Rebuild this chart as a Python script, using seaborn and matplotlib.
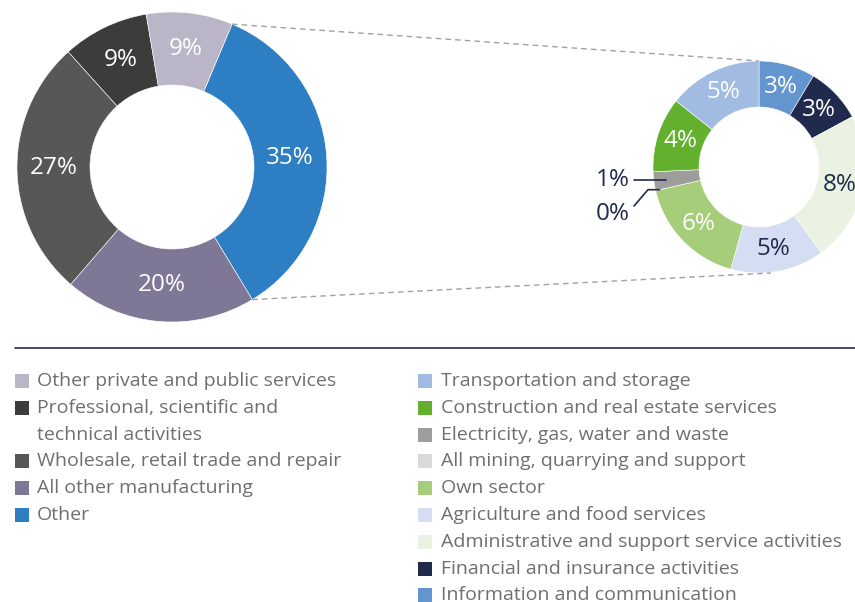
import matplotlib
matplotlib.use("Agg")
import matplotlib.pyplot as plt
import seaborn as sns
import numpy as np
from matplotlib.patches import Rectangle

sns.set_theme(style="white")
plt.rcParams['font.family'] = ['Open Sans', 'DejaVu Sans']

# ---- data ----
left_labels = ["Other", "All other manufacturing", "Wholesale, retail trade and repair",
               "Professional, scientific and\ntechnical activities", "Other private and public services"]
left_values = [35, 20, 27, 9, 9]
left_colors = ["#2e7ec4", "#7e7896", "#575756", "#3c3c3b", "#bab5c7"]

right_labels = ["Information and communication", "Financial and insurance activities",
                "Administrative and support service activities", "Agriculture and food services",
                "Own sector", "All mining, quarrying and support", "Electricity, gas, water and waste",
                "Construction and real estate services", "Transportation and storage"]
right_values = [3, 3, 8, 5, 6, 0, 1, 4, 5]
right_colors = ["#6396cf", "#1f2a4d", "#eaf3e1", "#d5ddf2", "#a5cd7a", "#d9d9d9",
                "#9d9d9c", "#62b02e", "#a2bbe2"]
right_label_colors = ["white", "white", "#1f2a4d", "#1f2a4d", "white", None, None, "white", "white"]

NAVY = "#1f2a4d"
TEXT_GRAY = "#6f6f6e"
PIE_FS = 17.5
LEG_FS = 14

W, H = 855, 602
fig = plt.figure(figsize=(W / 100, H / 100), dpi=100)
ax = fig.add_axes([0, 0, 1, 1])

def py(y):
    return H - y

L_C = (172, py(167)); L_R = 155; L_W = 73
R_C = (759, py(167)); R_R = 106; R_W = 46
L_START = 67.2

wl, tl, al = ax.pie(left_values, colors=left_colors, center=L_C, radius=L_R,
                    startangle=L_START, counterclock=False,
                    wedgeprops=dict(width=L_W, edgecolor="white", linewidth=0.4),
                    autopct=lambda p: f"{p:.0f}%", pctdistance=(L_R - L_W / 2) / L_R,
                    textprops=dict(color="white", fontsize=PIE_FS))

rtot = sum(right_values)
wr, tr, ar = ax.pie(right_values, colors=right_colors, center=R_C, radius=R_R,
                    startangle=90, counterclock=False,
                    wedgeprops=dict(width=R_W, edgecolor="white", linewidth=0.4),
                    autopct=lambda p: f"{p * rtot / 100:.0f}%" if p * rtot / 100 >= 1.5 else "",
                    pctdistance=(R_R - R_W / 2) / R_R,
                    textprops=dict(color="white", fontsize=PIE_FS))
for t, c in zip(ar, right_label_colors):
    if c:
        t.set_color(c)

# leader lines for tiny slices (electricity = 1%, mining = 0%)
def pt(center, r, theta_deg):
    th = np.deg2rad(theta_deg)
    return center[0] + r * np.cos(th), center[1] + r * np.sin(th)

w_elec = wr[6]; w_min = wr[5]
th_e = (w_elec.theta1 + w_elec.theta2) / 2
ex, ey = pt(R_C, R_R - 12, th_e)
ax.plot([634, ex], [ey, ey], color=NAVY, lw=1.2)
ax.text(630, ey, f"{right_values[6]}%", ha="right", va="center", color=NAVY, fontsize=PIE_FS)
mx, my = pt(R_C, R_R - 4, w_min.theta1)
ax.plot([634, 648, mx], [py(214) + 8, my, my], color=NAVY, lw=1.2)
ax.text(630, py(214), f"{right_values[5]}%", ha="right", va="center", color=NAVY, fontsize=PIE_FS)

# dashed connectors
lx1, ly1 = pt(L_C, L_R, wl[0].theta2)
lx2, ly2 = pt(L_C, L_R, wl[0].theta1)
ax.plot([lx1, R_C[0]], [ly1, R_C[1] + R_R], ls=(0, (4, 3)), color="#a0a0a0", lw=1)
ax.plot([lx2, R_C[0] + 12], [ly2, R_C[1] - R_R], ls=(0, (4, 3)), color="#a0a0a0", lw=1)

# rule
ax.plot([15, 855], [py(348), py(348)], color=NAVY, lw=1.2)

# legends
row_h = 26.8
def legend_col(x_sq, x_txt, labels, colors, y0):
    row = 0
    for lab, col in zip(labels, colors):
        y = py(y0 + row * row_h)
        ax.add_patch(Rectangle((x_sq, y - 7), 14, 14, color=col, lw=0))
        lines = lab.split("\n")
        for k, ln in enumerate(lines):
            ax.text(x_txt, py(y0 + (row + k) * row_h), ln, ha="left", va="center",
                    color=TEXT_GRAY, fontsize=LEG_FS)
        row += len(lines)

legend_col(15, 37, left_labels[::-1], left_colors[::-1], 381)
legend_col(418, 441, right_labels[::-1], right_colors[::-1], 381)

ax.set_xlim(0, W)
ax.set_ylim(0, H)
ax.set_aspect("equal")
ax.axis("off")
fig.savefig("out.png", dpi=100)
